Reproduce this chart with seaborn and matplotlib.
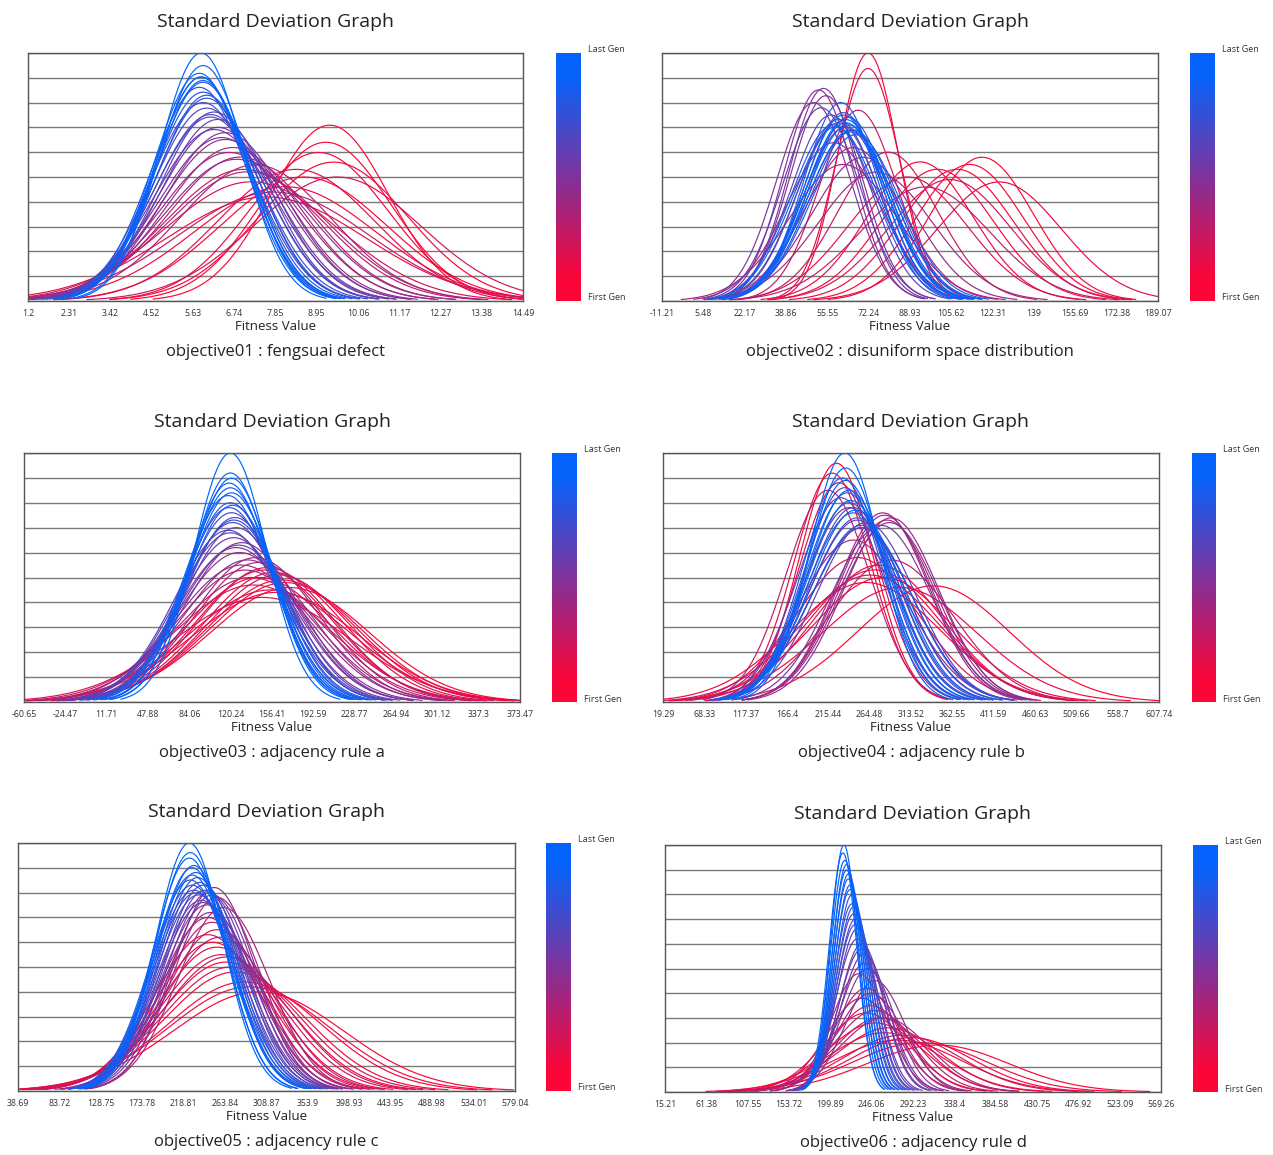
import numpy as np
import pandas as pd
import matplotlib
matplotlib.use("Agg")
import matplotlib.pyplot as plt
from matplotlib.colors import LinearSegmentedColormap
import seaborn as sns

# Tick labels of the x axes (first and last are the axis limits)
ticks1 = ["1.2", "2.31", "3.42", "4.52", "5.63", "6.74", "7.85", "8.95", "10.06", "11.17", "12.27", "13.38", "14.49"]
ticks2 = ["-11.21", "5.48", "22.17", "38.86", "55.55", "72.24", "88.93", "105.62", "122.31", "139", "155.69", "172.38", "189.07"]
ticks3 = ["-60.65", "-24.47", "11.71", "47.88", "84.06", "120.24", "156.41", "192.59", "228.77", "264.94", "301.12", "337.3", "373.47"]
ticks4 = ["19.29", "68.33", "117.37", "166.4", "215.44", "264.48", "313.52", "362.55", "411.59", "460.63", "509.66", "558.7", "607.74"]
ticks5 = ["38.69", "83.72", "128.75", "173.78", "218.81", "263.84", "308.87", "353.9", "398.93", "443.95", "488.98", "534.01", "579.04"]
ticks6 = ["15.21", "61.38", "107.55", "153.72", "199.89", "246.06", "292.23", "338.4", "384.58", "430.75", "476.92", "523.09", "569.26"]

# Mean / standard deviation of fitness per generation (first gen -> last gen)
means1 = [9.3, 9.2, 8.6, 9.4, 8.1, 9.0, 7.6, 8.4, 7.2, 9.5, 7.0, 7.8, 6.9, 7.3, 6.6, 7.1, 6.7, 6.5, 6.8, 6.4,
          6.5, 6.3, 6.2, 6.3, 6.1, 6.2, 6.0, 6.1, 5.9, 6.0, 5.9, 5.8, 6.0, 5.9, 5.85, 5.9, 5.8, 5.85, 5.9, 5.85]
std1 = [1.58, 1.75, 2.24, 2.0, 2.43, 1.87, 2.67, 2.11, 2.33, 2.24, 2.11, 2.55, 1.93, 2.04, 1.87, 2.15, 1.81, 1.72, 1.96, 1.70,
        1.65, 1.60, 1.62, 1.53, 1.51, 1.47, 1.44, 1.49, 1.40, 1.37, 1.33, 1.30, 1.35, 1.27, 1.24, 1.26, 1.22, 1.24, 1.18, 1.12]

means2 = [118, 113, 72, 100, 93, 108, 125, 72, 88, 105, 80, 68, 95, 62, 66, 75, 58, 70, 52, 55,
          50, 54, 60, 53, 63, 57, 65, 60, 62, 66, 58, 64, 61, 67, 63, 59, 65, 62, 64, 63]
std2 = [20.7, 21.8, 12.0, 22.6, 21.4, 22.6, 25.0, 12.8, 24.0, 24.5, 20.0, 15.6, 26.1, 21.8, 19.4, 23.1, 18.8, 20.7, 14.1, 14.5,
        15.0, 14.0, 16.7, 15.4, 17.1, 16.0, 17.6, 16.4, 15.8, 17.4, 16.9, 16.2, 15.0, 17.9, 16.7, 17.1, 17.4, 16.0, 16.9, 16.4]

means3 = [165, 158, 172, 150, 160, 145, 168, 155, 148, 162, 140, 152, 138, 145, 133, 142, 130, 128, 135, 125,
          130, 123, 127, 120, 125, 122, 118, 124, 121, 119, 123, 120, 118, 122, 120, 121, 119, 120, 121, 120]
std3 = [65.3, 61.5, 69.6, 60.4, 72.7, 64.0, 66.7, 71.1, 76.2, 62.7, 68.1, 59.3, 64.0, 57.1, 60.4, 55.2, 58.2, 53.3, 56.1, 51.6,
        50.0, 48.5, 50.8, 47.1, 45.7, 44.4, 46.4, 43.2, 42.1, 41.0, 43.8, 40.0, 38.6, 40.5, 37.2, 38.1, 36.4, 34.8, 35.6, 32.0]

means4 = [340, 270, 225, 280, 260, 300, 220, 275, 250, 228, 265, 290, 215, 285, 280, 245, 290, 282, 255, 288,
          240, 278, 250, 230, 260, 245, 235, 255, 240, 250, 232, 245, 238, 255, 236, 248, 242, 240, 236, 235]
std4 = [90.0, 79.2, 43.8, 84.0, 87.5, 91.3, 45.7, 76.4, 72.4, 47.7, 82.4, 73.7, 49.4, 57.5, 55.3, 64.6, 56.8, 56.0, 60.0, 58.3,
        53.8, 59.2, 57.5, 51.2, 58.3, 53.8, 48.8, 60.0, 52.5, 56.8, 46.7, 55.3, 50.0, 59.2, 47.2, 54.5, 51.9, 49.4, 44.7, 42.0]

means5 = [300, 265, 285, 255, 275, 250, 290, 260, 245, 270, 255, 265, 250, 258, 262, 245, 255, 248, 252, 244,
          250, 240, 246, 238, 242, 235, 240, 232, 236, 230, 234, 228, 232, 226, 230, 228, 225, 228, 226, 225]
std5 = [92.5, 71.2, 84.1, 63.8, 77.1, 61.7, 88.1, 67.3, 58.7, 74.0, 56.9, 68.5, 54.4, 59.7, 50.0, 52.9, 47.4, 51.4, 45.1, 49.3,
        46.8, 48.7, 46.3, 48.1, 45.7, 46.8, 44.6, 46.3, 44.0, 45.7, 43.0, 44.6, 42.0, 43.5, 40.7, 42.5, 39.4, 41.1, 38.5, 37.0]

means6 = [290, 260, 320, 250, 275, 240, 300, 265, 245, 255, 280, 235, 250, 240, 260, 232, 245, 238, 250, 235,
          242, 230, 238, 228, 235, 226, 230, 224, 228, 222, 226, 220, 224, 218, 222, 216, 220, 214, 218, 215]
std6 = [68.2, 62.5, 78.9, 53.6, 71.4, 46.9, 75.0, 57.7, 42.9, 50.0, 65.2, 39.5, 45.5, 35.7, 50.0, 31.3, 37.5, 28.8, 33.3, 25.9,
        30.0, 24.2, 26.8, 22.1, 25.0, 20.8, 22.7, 19.7, 21.4, 18.3, 20.0, 17.4, 18.8, 16.7, 17.9, 16.0, 17.0, 15.5, 16.3, 15.0]

names = ["objective01 : fengsuai defect", "objective02 : disuniform space distribution",
         "objective03 : adjacency rule a", "objective04 : adjacency rule b",
         "objective05 : adjacency rule c", "objective06 : adjacency rule d"]

W, H = 1273, 1155
# axes box in pixels: left, top, right, bottom ; colorbar left, right
boxes = [(28, 53, 523, 301, 556, 581),
         (662, 53, 1158, 301, 1190, 1215),
         (24, 453, 520, 702, 552, 577),
         (663, 453, 1159, 702, 1192, 1216),
         (18, 843, 515, 1091, 546, 571),
         (665, 845, 1161, 1092, 1193, 1218)]

# red (first gen) -> purple -> blue (last gen), ends held a little
gen_cmap = LinearSegmentedColormap.from_list(
    "gen", [(0.0, "#ff0535"), (0.1, "#f8073b"), (0.5, "#80339b"), (0.9, "#0862fa"), (1.0, "#0064ff")])
FONT = ["Open Sans", "DejaVu Sans"]


# One normal curve per generation, cut at +-3 sigma
def curves_frame(means, stds, lo, hi):
    parts = []
    for g, (m, s) in enumerate(zip(means, stds)):
        x = np.linspace(max(m - 3 * s, lo), min(m + 3 * s, hi), 200)
        y = np.exp(-0.5 * ((x - m) / s) ** 2) / (s * np.sqrt(2 * np.pi))
        parts.append(pd.DataFrame({"x": x, "density": y, "gen": g}))
    return pd.concat(parts, ignore_index = True)


def px_rect(l, t, r, b):
    return [l / W, 1 - b / H, (r - l) / W, (b - t) / H]


sns.set_style("white")
plt.rcParams["font.family"] = FONT

fig = plt.figure(figsize = (W / 100, H / 100), dpi = 100)

panels = [(means1, std1, ticks1), (means2, std2, ticks2), (means3, std3, ticks3),
          (means4, std4, ticks4), (means5, std5, ticks5), (means6, std6, ticks6)]

for (means, stds, ticks), name, (l, t, r, b, cl, cr) in zip(panels, names, boxes):
    lo, hi = float(ticks[0]), float(ticks[-1])
    df = curves_frame(means, stds, lo, hi)
    n = len(means)

    ax = fig.add_axes(px_rect(l, t, r, b))
    sns.lineplot(data = df, x = "x", y = "density", hue = "gen", palette = gen_cmap,
                 hue_norm = (0, n - 1), estimator = None, sort = False,
                 linewidth = 0.85, legend = False, ax = ax)

    ymax = df["density"].max()
    ax.set_xlim(lo, hi)
    ax.set_ylim(0, ymax)
    ax.set_yticks(np.linspace(0, ymax, 11))
    ax.set_yticklabels([])
    ax.tick_params(axis = "y", length = 0)
    ax.grid(True, axis = "y", color = "#7a7a7a", linewidth = 1.0)
    ax.set_axisbelow(True)
    ax.set_xticks([float(v) for v in ticks])
    ax.set_xticklabels(ticks, fontsize = 6.3, color = "#333333")
    ax.tick_params(axis = "x", length = 3, width = 0.6, color = "#555555", pad = 3)
    for sp in ax.spines.values():
        sp.set_color("#555555")
        sp.set_linewidth(1.0)
    ax.set_xlabel("Fitness Value", fontsize = 9.5, labelpad = 1, color = "#222222")
    ax.set_ylabel("")

    cx = (l + r) / 2 / W
    fig.text(cx, 1 - (t - 31) / H, "Standard Deviation Graph", ha = "center", va = "center",
             fontsize = 14, color = "#222222")
    fig.text(cx, 1 - (b + 51) / H, name, ha = "center", va = "center", fontsize = 12, color = "#222222")

    # generation colour bar
    cax = fig.add_axes(px_rect(cl, t, cr, b))
    cax.imshow(np.linspace(1, 0, 256)[:, None], aspect = "auto", cmap = gen_cmap)
    cax.set_axis_off()
    fig.text((cr + 7) / W, 1 - (t - 3) / H, "Last Gen", fontsize = 6.5, color = "#333333", va = "center")
    fig.text((cr + 7) / W, 1 - (b - 3) / H, "First Gen", fontsize = 6.5, color = "#333333", va = "center")

plt.savefig("out.png", dpi = 100)
